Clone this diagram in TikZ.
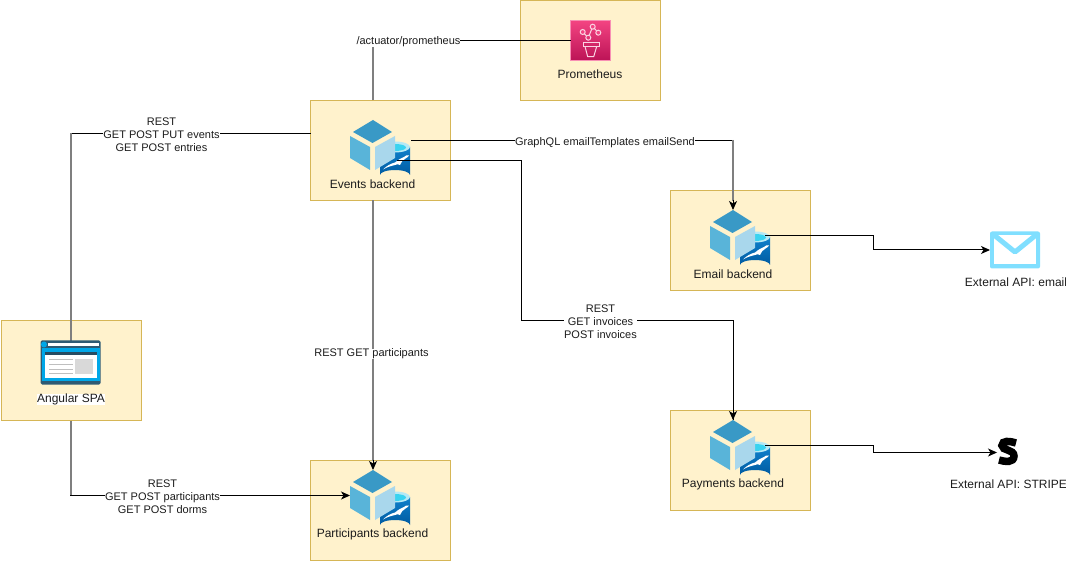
\documentclass[tikz,border=0pt]{standalone}
\usepackage{fontspec}
\setmainfont{Liberation Sans}
\usetikzlibrary{arrows.meta}
\definecolor{boxfill}{HTML}{FFF2CC}
\definecolor{boxline}{HTML}{D6B656}
\definecolor{cubetop}{HTML}{3999C6}
\definecolor{cubeleft}{HTML}{59B4D9}
\definecolor{cuberight}{HTML}{A9D7EC}
\definecolor{dbtop}{HTML}{0F80CC}
\definecolor{dbbot}{HTML}{005BA1}
\definecolor{dbrim}{HTML}{B5E9F5}
\definecolor{dbcyan}{HTML}{3AD3F0}
\definecolor{brframe}{HTML}{2E5A73}
\definecolor{brblue}{HTML}{00A7E8}
\definecolor{mailblue}{HTML}{80DFFF}
\definecolor{promtop}{HTML}{F34482}
\definecolor{prombot}{HTML}{BC1356}
\definecolor{prompale}{HTML}{FBD3E2}
\definecolor{txt}{HTML}{1C1C1C}
\definecolor{halfline}{HTML}{7F7F7F}
\tikzset{
  x=1pt,y=-1pt,
  every node/.style={inner sep=0pt,outer sep=0pt,font=\fontsize{11}{13}\selectfont,text=txt},
  boxst/.style={draw=boxline,fill=boxfill,line width=1pt,minimum width=140pt,minimum height=100pt},
  conn/.style={draw=black,line width=1pt,line join=miter},
  vconn/.style={draw=halfline,line width=2pt},
  arrowed/.style={conn,-{Stealth[length=9pt,width=8pt,inset=2.5pt]}},
  lab/.style={fill=white,align=center},
  iconlab/.style={font=\fontsize{12}{14}\selectfont},
  backend/.pic={
    % database
    \shade[top color=dbtop,bottom color=dbbot] (70,47) -- (100,47) -- (100,75) arc[start angle=0,end angle=180,x radius=15,y radius=-5] -- cycle;
    \fill[dbrim] (85,47) ellipse[x radius=15,y radius=5.5];
    \fill[dbcyan] (85,47.5) ellipse[x radius=11,y radius=3.5];
    \node[minimum width=31pt,minimum height=39pt] (db) at (85.5,60.5) {};
    % cube
    \fill[cubetop] (63,20) -- (82,32) -- (62.5,43) -- (43,32) -- cycle;
    \fill[cubeleft] (40,36) -- (60,47) -- (60,70) -- (40,58) -- cycle;
    \fill[cuberight] (85,36) -- (65,47) -- (65,70) -- (85,58) -- cycle;
    \node[minimum width=46pt,minimum height=50pt] (cube) at (63,45) {};
    % seal
    \fill[white] (73,69.5) .. controls (77,65.5) and (81,63.5) .. (85,62.5)
      .. controls (88,60) and (91,58) .. (94,57)
      .. controls (95,55.5) and (97,55) .. (99,55.5)
      .. controls (98,57) and (96.5,58) .. (95.5,58.5)
      .. controls (93,60) and (91,62) .. (90,65)
      .. controls (88,64) and (87,64) .. (85,65)
      .. controls (81,66) and (77,67) .. (73,69.5) -- cycle;
  }
}
\begin{document}
\begin{tikzpicture}
\useasboundingbox (0,0) rectangle (1066,561);
% boxes
\node[boxst] (spa) at (71,370.5) {};
\node[boxst] (prom) at (590.5,50.5) {};
\node[boxst] (events) at (380.5,150.5) {};
\node[boxst] (email) at (740.5,240.5) {};
\node[boxst] (payments) at (740.5,460.5) {};
\node[boxst] (participants) at (380.5,510.5) {};
% icons
\pic (ev) at (310,100) {backend};
\pic (em) at (670,190) {backend};
\pic (pa) at (670,400) {backend};
\pic (pt) at (310,450) {backend};
% prometheus icon
\node[draw=promtop!60!white,line width=1pt,top color=promtop,bottom color=prombot,minimum width=40pt,minimum height=40pt] (promicon) at (590.5,40.5) {};
\begin{scope}[draw=prompale,line width=1pt]
  \draw (582.7,32) -- (588.3,37.7) -- (592.7,26.7) -- (598.3,32.7);
  \filldraw[fill=promtop] (582.7,32) circle[radius=2.5];
  \filldraw[fill=promtop] (592.7,26.7) circle[radius=2.5];
  \filldraw[fill=promtop] (598.3,32.7) circle[radius=2.5];
  \filldraw[fill=promtop!70!prombot] (588.3,37.7) circle[radius=2.5];
  \draw (583,42.5) rectangle (599,46.5);
  \draw (585,46.5) -- (587.7,56.7) -- (593.7,56.7) -- (596.7,46.5);
\end{scope}
% connectors
\draw[vconn] ([xshift=-7.5pt]events.north) -- (373,41);
\draw[conn] (372,40.5) -- (promicon.west);
\draw[conn] (events.west |- 0,133.5) -- (70,133.5);
\draw[vconn] (71,133) -- (spa.center);
\draw[vconn] (spa.south) -- (71,496);
\draw[arrowed] (70,495.5) -- (ptcube.west |- 0,495.5);
\draw[vconn] ([xshift=-7.5pt]events.south) -- ([yshift=9pt]ptcube.north);
\draw[arrowed] ([yshift=10pt]ptcube.north) -- (ptcube.north);
\draw[conn] ([yshift=20pt]evdb.east) -- (733.5,140.5);
\draw[vconn] (emcube.north |- 0,140) -- ([yshift=9pt]emcube.north);
\draw[arrowed] ([yshift=10pt]emcube.north) -- (emcube.north);
\draw[conn] ([xshift=-14pt]evdb.east) -- (521.5,160.5) -- (521.5,320.5) -- (733.5,320.5) -- (733.5,420);
\draw[arrowed] ([yshift=10pt]pacube.north) -- (pacube.north);
% external icons
\node[minimum width=50pt,minimum height=37pt] (mailicon) at (1015,250) {};
\node[minimum width=22pt,minimum height=28pt] (stripeicon) at (1008,452.5) {};
\draw[arrowed] ([xshift=-6pt,yshift=15pt]emdb.east) -- (873.5,235.5) -- (873.5,250) -- (mailicon.west);
\draw[arrowed] ([xshift=-6pt,yshift=15pt]padb.east) -- (873.5,445.5) -- (873.5,452.5) -- (stripeicon.west);
\fill[mailblue,rounded corners=2pt] (mailicon.north west) rectangle (mailicon.south east);
\fill[white] (994,235) rectangle (1036,264);
\draw[mailblue,line width=5pt,line join=round] (994,235) -- (1015,252) -- (1036,235);
\draw[black,line width=7.5pt] (1016,443) .. controls (1010,441) and (1002,440) .. (1002,445.5)
  .. controls (1002,451) and (1014,449) .. (1014,456)
  .. controls (1014,463) and (1005,462) .. (999,460);
% browser icon
\node[fill=brframe,rounded corners=1.5pt,minimum width=60pt,minimum height=44pt] (brow) at (70.5,362.5) {};
\fill[white] (48,343) rectangle (99,346);
\fill[brblue] (44,344.5) circle[radius=3];
\fill[brblue] (41.5,348.5) rectangle (99.5,381.5);
\fill[white] (44.5,352.5) rectangle (96.5,378.5);
\fill[brframe!85!black] (44.5,352.5) rectangle (96.5,355);
\fill[black!15] (75,359) rectangle (93,374);
\foreach \yy in {359.5,364.5,369.5,373.5} \fill[black!25] (49,\yy) rectangle (73,\yy+1);
% labels
\node[lab,iconlab] (spalab) at (71,399.5) {Angular SPA};
\node[iconlab] (promlab) at (590,74) {Prometheus};
\node[iconlab] (evlab) at (372.5,184.5) {Events backend};
\node[iconlab] (emlab) at (733,274.5) {Email backend};
\node[iconlab] (palab) at (733,484.5) {Payments backend};
\node[iconlab] (ptlab) at (372.5,534.5) {Participants backend};
\node[iconlab] (maillab) at (1016,282.5) {External API: email};
\node[iconlab] (stripelab) at (1008.5,484.5) {External API: STRIPE};
\node[lab] (l1) at (408.5,41.5) {/actuator/prometheus};
\node[lab] (l2) at (161.5,135) {REST\\GET POST PUT events\\GET POST entries};
\node[lab] (l3) at (605,143) {GraphQL emailTemplates emailSend};
\node[lab] (l4) at (600.5,322) {REST\\GET invoices\\POST invoices};
\node[lab] (l5) at (371.5,354) {REST GET participants};
\node[lab] (l6) at (162.5,497) {REST\\GET POST participants\\GET POST dorms};
\end{tikzpicture}
\end{document}
